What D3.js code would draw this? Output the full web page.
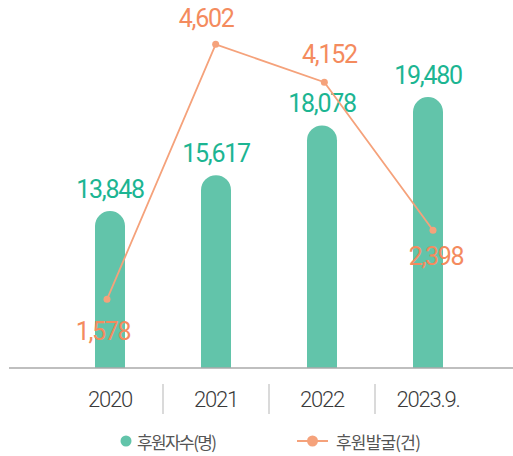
<!DOCTYPE html>
<html>
<head>
<meta charset="utf-8">
<script src="https://cdn.jsdelivr.net/npm/d3@7"></script>
<style>
  html, body { margin: 0; padding: 0; background: #ffffff; }
  svg { display: block; }
</style>
</head>
<body>
<div id="chart"></div>
<script>
// ---- data ----
const categories = ["2020", "2021", "2022", "2023.9."];
const sponsors = [13848, 15617, 18078, 19480];      // 후원자수(명)
const discoveries = [1578, 4602, 4152, 2398];        // 후원발굴(건)
const legendLabels = ["후원자수(명)", "후원발굴(건)"];

// ---- layout ----
const W = 513, H = 456;
const baseY = 368;
const barW = 30;
const green = "#62c4aa", greenText = "#1cb592";
const orange = "#f5a27b", orangeText = "#f48b5e";

const svg = d3.select("#chart").append("svg")
  .attr("width", W).attr("height", H);

const x = d3.scaleBand().domain(categories).range([57, 481]).padding(0);
const xLine = d3.scalePoint().domain(categories).range([107, 433]);
const yBar = d3.scaleLinear().domain([6000, 20000]).range([369.9, 86.5]);
const yLine = d3.scaleLinear().domain([0, 5000]).range([432.4, 10.75]);

const fmt = d3.format(",");

// bars with rounded tops
const r = barW / 2;
svg.append("g").selectAll("path").data(sponsors).join("path")
  .attr("fill", green)
  .attr("d", (v, i) => {
    const cx = x(categories[i]) + x.bandwidth() / 2;
    const x0 = cx - r, top = yBar(v);
    return `M${x0},${baseY} L${x0},${top + r} A${r},${r} 0 0 1 ${x0 + 2 * r},${top + r} L${x0 + 2 * r},${baseY} Z`;
  });

// bar value labels
svg.append("g").selectAll("text").data(sponsors).join("text")
  .attr("x", (v, i) => x(categories[i]) + x.bandwidth() / 2)
  .attr("y", v => yBar(v) - 13)
  .attr("text-anchor", "middle")
  .attr("font-family", "Roboto, sans-serif")
  .attr("font-weight", 400)
  .attr("font-size", 25)
  .attr("letter-spacing", -1.3)
  .attr("fill", greenText)
  .text(v => fmt(v));

// axis baseline
svg.append("line")
  .attr("x1", 9).attr("x2", W)
  .attr("y1", baseY).attr("y2", baseY)
  .attr("stroke", "#aaaaaa").attr("stroke-width", 1.5);

// separators
svg.append("g").selectAll("line").data(categories.slice(1)).join("line")
  .attr("x1", d => x(d)).attr("x2", d => x(d))
  .attr("y1", 384).attr("y2", 414)
  .attr("stroke", "#b5b5b5").attr("stroke-width", 1);

// category labels
svg.append("g").selectAll("text").data(categories).join("text")
  .attr("x", d => x(d) + x.bandwidth() / 2)
  .attr("y", 406.5)
  .attr("text-anchor", "middle")
  .attr("font-family", "Roboto, sans-serif")
  .attr("font-weight", 300)
  .attr("font-size", 22)
  .attr("letter-spacing", -1.2)
  .attr("fill", "#3a3a3a")
  .text(d => d);

// line
const line = d3.line()
  .x((v, i) => xLine(categories[i]))
  .y(v => yLine(v));
svg.append("path").datum(discoveries)
  .attr("d", line)
  .attr("fill", "none")
  .attr("stroke", orange)
  .attr("stroke-width", 1.8);

svg.append("g").selectAll("circle").data(discoveries).join("circle")
  .attr("cx", (v, i) => xLine(categories[i]))
  .attr("cy", v => yLine(v))
  .attr("r", 3.5)
  .attr("fill", orange);

// line value labels (placement offsets relative to points)
const lblOff = [[-4, 41], [-9.5, -17], [5, -19.5], [3, 35]];
svg.append("g").selectAll("text").data(discoveries).join("text")
  .attr("x", (v, i) => xLine(categories[i]) + lblOff[i][0])
  .attr("y", (v, i) => yLine(v) + lblOff[i][1])
  .attr("text-anchor", "middle")
  .attr("font-family", "Roboto, sans-serif")
  .attr("font-weight", 400)
  .attr("font-size", 25)
  .attr("letter-spacing", -1.3)
  .attr("fill", orangeText)
  .text(v => fmt(v));

// legend
const lg = svg.append("g");
lg.append("circle").attr("cx", 126).attr("cy", 441).attr("r", 5.5).attr("fill", green);
lg.append("text").attr("x", 137).attr("y", 448.5)
  .attr("font-family", "'Noto Sans CJK KR', sans-serif")
  .attr("font-size", 17).attr("letter-spacing", -1.6)
  .attr("fill", "#555555").text(legendLabels[0]);

lg.append("line").attr("x1", 297).attr("x2", 328).attr("y1", 441).attr("y2", 441)
  .attr("stroke", orange).attr("stroke-width", 2);
lg.append("circle").attr("cx", 312.5).attr("cy", 441).attr("r", 5.5).attr("fill", orange);
lg.append("text").attr("x", 336).attr("y", 448.5)
  .attr("font-family", "'Noto Sans CJK KR', sans-serif")
  .attr("font-size", 17).attr("letter-spacing", -0.8)
  .attr("fill", "#555555").text(legendLabels[1]);
</script>
</body>
</html>
